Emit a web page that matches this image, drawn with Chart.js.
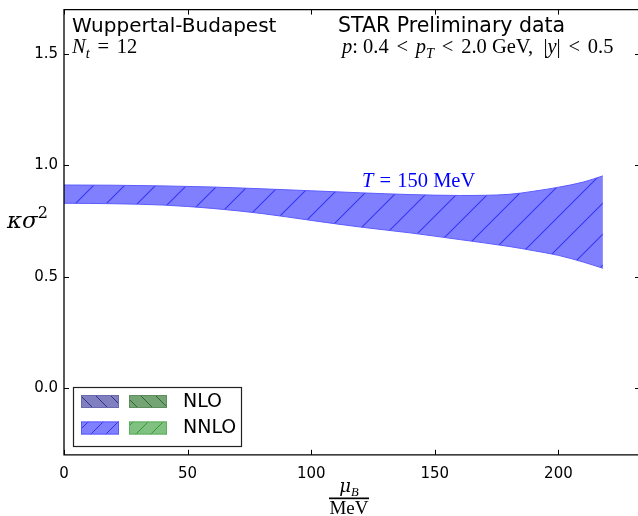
<!DOCTYPE html>
<html>
<head>
<meta charset="utf-8">
<script src="https://cdn.jsdelivr.net/npm/chart.js@4/dist/chart.umd.min.js"></script>
<style>
  html, body { margin: 0; padding: 0; background: #fff; overflow: hidden; width: 638px; height: 516px; }
  #wrap { position: relative; width: 638px; height: 516px; overflow: hidden; }
  #kurtosisChart { position: absolute; left: 0; top: 0; }
</style>
</head>
<body>
<div id="wrap"><canvas id="kurtosisChart" width="647" height="516"></canvas></div>
<script>
// mu_B grid (MeV) and the edges of the T = 150 MeV band
const muB = [0, 20, 40, 60, 80, 100, 120, 140, 160, 180, 190, 200, 210, 218];
const bandUpper = [0.912, 0.911, 0.908, 0.903, 0.895, 0.886, 0.877, 0.869, 0.865, 0.870, 0.884, 0.902, 0.925, 0.953];
const bandLower = [0.830, 0.828, 0.822, 0.807, 0.784, 0.753, 0.723, 0.697, 0.667, 0.636, 0.617, 0.596, 0.566, 0.538];

const xTicks = [0, 50, 100, 150, 200];
const yTicks = [0.0, 0.5, 1.0, 1.5];
const yTickLabels = ["0.0", "0.5", "1.0", "1.5"];

const legendRows = ["NLO", "NNLO"];

const sansFont = "'DejaVu Sans', sans-serif";
const serifFont = "'Liberation Serif', 'DejaVu Serif', serif";
const greekFont = "'DejaVu Serif', serif";

function makeHatch(fill, stroke, size, backslash, width) {
    const c = document.createElement("canvas");
    c.width = size;
    c.height = size;
    const g = c.getContext("2d");
    g.fillStyle = fill;
    g.fillRect(0, 0, size, size);
    g.strokeStyle = stroke;
    g.lineWidth = width || 1;
    g.beginPath();
    if (backslash) {
        g.moveTo(-1, -1); g.lineTo(size + 1, size + 1);
        g.moveTo(size - 1, -1); g.lineTo(size + 1, 1);
        g.moveTo(-1, size - 1); g.lineTo(1, size + 1);
    } else {
        g.moveTo(-1, size + 1); g.lineTo(size + 1, -1);
        g.moveTo(-1, 1); g.lineTo(1, -1);
        g.moveTo(size - 1, size + 1); g.lineTo(size + 1, size - 1);
    }
    g.stroke();
    return g.createPattern(c, "repeat");
}

const ctx2d = document.getElementById("kurtosisChart").getContext("2d");
const bandPattern = makeHatch("#8080ff", "#3535f5", 31, false, 1.1);

const legendPatches = [
    [makeHatch("#8080c0", "#30308c", 15, true), makeHatch("#74a474", "#2f662f", 15, true)],
    [makeHatch("#8080ff", "#3030f0", 15, false), makeHatch("#80c080", "#2f9a2f", 15, false)],
];

// text pieces: {t, it, sub, sup, rel, gk}; rel gets math spacing on both sides
function runFont(size, r) {
    const s = r.sub || r.sup ? size * 0.7 : size;
    return `${r.it ? "italic " : ""}${s}px ${r.gk ? greekFont : serifFont}`;
}

function runWidth(ctx, size, r) {
    ctx.font = runFont(size, r);
    return ctx.measureText(r.t).width + (r.rel ? size * r.rel * 2 : 0);
}

function drawRuns(ctx, x, y, size, runs, color) {
    ctx.save();
    ctx.fillStyle = color || "#000";
    ctx.textBaseline = "alphabetic";
    ctx.textAlign = "left";
    let cx = x;
    runs.forEach((r) => {
        const dy = r.sub ? size * 0.22 : r.sup ? -size * 0.45 : 0;
        const w = runWidth(ctx, size, r);
        ctx.fillText(r.t, cx + (r.rel ? size * r.rel : 0), y + dy);
        cx += w;
    });
    ctx.restore();
    return cx - x;
}

function measureRuns(ctx, size, runs) {
    ctx.save();
    const w = runs.reduce((acc, r) => acc + runWidth(ctx, size, r), 0);
    ctx.restore();
    return w;
}

const framePlugin = {
    id: "frameTicks",
    afterDraw(chart) {
        const { ctx, chartArea: a, scales } = chart;
        const tl = 5;
        ctx.save();
        ctx.strokeStyle = "#000";
        ctx.lineWidth = 1;
        ctx.beginPath();
        xTicks.forEach((v) => {
            const px = Math.round(scales.x.getPixelForValue(v)) + 0.5;
            ctx.moveTo(px, a.bottom); ctx.lineTo(px, a.bottom - tl);
            ctx.moveTo(px, a.top); ctx.lineTo(px, a.top + tl);
        });
        yTicks.forEach((v) => {
            const py = Math.round(scales.y.getPixelForValue(v)) + 0.5;
            ctx.moveTo(a.left, py); ctx.lineTo(a.left + tl, py);
            ctx.moveTo(a.right, py); ctx.lineTo(a.right - tl, py);
        });
        ctx.stroke();
        // spines: top, left, bottom (the right one sits past the page edge)
        ctx.lineWidth = 1.3;
        ctx.beginPath();
        ctx.moveTo(a.right + 2, a.top);
        ctx.lineTo(a.left, a.top);
        ctx.lineTo(a.left, a.bottom);
        ctx.lineTo(a.right + 2, a.bottom);
        ctx.stroke();
        ctx.restore();

        // header texts
        ctx.save();
        ctx.fillStyle = "#000";
        ctx.font = `20px ${sansFont}`;
        ctx.fillText("Wuppertal-Budapest", 72, 32);
        ctx.font = `20.5px ${sansFont}`;
        ctx.fillText("STAR Preliminary data", 338, 32);
        ctx.restore();
        drawRuns(ctx, 72, 53, 20.5, [
            { t: "N", it: true }, { t: "t", it: true, sub: true }, { t: "=", rel: 0.38 }, { t: "12" },
        ]);
        drawRuns(ctx, 342, 53, 20.5, [
            { t: "p", it: true }, { t: ":" }, { t: " 0.4" }, { t: "<", rel: 0.38 }, { t: "p", it: true },
            { t: "T", it: true, sub: true }, { t: "<", rel: 0.38 }, { t: "2.0 GeV,  |" }, { t: "y", it: true },
            { t: "|" }, { t: "<", rel: 0.38 }, { t: "0.5" },
        ]);

        // band label
        drawRuns(ctx, 362, 187, 20.5, [{ t: "T", it: true }, { t: "=", rel: 0.3 }, { t: "150 MeV" }], "#0000ff");

        // y axis title
        drawRuns(ctx, 7, 228, 23, [{ t: "κσ", it: true, gk: true }, { t: "2", sup: true, gk: true }]);

        // x axis title as a fraction
        const cx = (a.left + a.right) / 2 - 3;
        const numRuns = [{ t: "μ", it: true, gk: true }, { t: "B", it: true, sub: true }];
        drawRuns(ctx, cx - measureRuns(ctx, 18, numRuns) / 2, 492, 18, numRuns);
        ctx.save();
        ctx.fillStyle = "#000";
        ctx.fillRect(cx - 20, 497.5, 40, 1.7);
        ctx.restore();
        const denRuns = [{ t: "MeV" }];
        drawRuns(ctx, cx - measureRuns(ctx, 19, denRuns) / 2, 514, 19, denRuns);

        // legend box
        ctx.save();
        ctx.fillStyle = "#fff";
        ctx.fillRect(73.5, 387.5, 168, 59);
        ctx.strokeStyle = "#222";
        ctx.lineWidth = 1.2;
        ctx.strokeRect(73.5, 387.5, 168, 59);
        legendRows.forEach((label, i) => {
            const top = 395 + i * 26.5;
            legendPatches[i].forEach((pat, j) => {
                const left = 81 + j * 48;
                ctx.fillStyle = pat;
                ctx.fillRect(left, top, 38, 13);
                ctx.strokeStyle = j === 0 ? (i === 0 ? "#6a6ab0" : "#5a5aff") : (i === 0 ? "#5e8e5e" : "#5fae5f");
                ctx.lineWidth = 1;
                ctx.strokeRect(left + 0.5, top + 0.5, 37, 12);
            });
            ctx.fillStyle = "#000";
            ctx.font = `19px ${sansFont}`;
            ctx.textBaseline = "middle";
            ctx.fillText(label, 183, top + 7);
        });
        ctx.restore();
    },
};

new Chart(ctx2d, {
    type: "line",
    data: {
        datasets: [
            {
                label: "lower",
                data: muB.map((m, i) => ({ x: m, y: bandLower[i] })),
                borderColor: "#5c5cff",
                borderWidth: 1,
                pointRadius: 0,
                fill: false,
                cubicInterpolationMode: "monotone",
            },
            {
                label: "upper",
                data: muB.map((m, i) => ({ x: m, y: bandUpper[i] })),
                borderColor: "#5c5cff",
                borderWidth: 1,
                pointRadius: 0,
                backgroundColor: bandPattern,
                fill: "-1",
                cubicInterpolationMode: "monotone",
            },
        ],
    },
    options: {
        responsive: false,
        animation: false,
        layout: { padding: { left: 0, top: 9.6, right: 7, bottom: 0 } },
        plugins: {
            legend: { display: false },
            tooltip: { enabled: false },
        },
        scales: {
            x: {
                type: "linear",
                min: 0,
                max: 233,
                grid: { display: false, drawTicks: false },
                border: { display: false },
                afterFit: (s) => { s.height = 61.2; s.paddingLeft = 0; s.paddingRight = 0; },
                afterBuildTicks: (s) => { s.ticks = xTicks.map((v) => ({ value: v })); },
                ticks: {
                    autoSkip: false,
                    maxRotation: 0,
                    padding: 10,
                    color: "#000",
                    font: { family: sansFont, size: 15 },
                    callback: (v) => String(v),
                },
            },
            y: {
                min: -0.3,
                max: 1.7,
                grid: { display: false, drawTicks: false },
                border: { display: false },
                afterFit: (s) => { s.width = 64; s.paddingTop = 0; s.paddingBottom = 0; },
                afterBuildTicks: (s) => { s.ticks = yTicks.map((v) => ({ value: v })); },
                ticks: {
                    padding: 6,
                    color: "#000",
                    font: { family: sansFont, size: 15 },
                    callback: (v) => yTickLabels[yTicks.indexOf(v)],
                },
            },
        },
    },
    plugins: [framePlugin],
});
</script>
</body>
</html>
